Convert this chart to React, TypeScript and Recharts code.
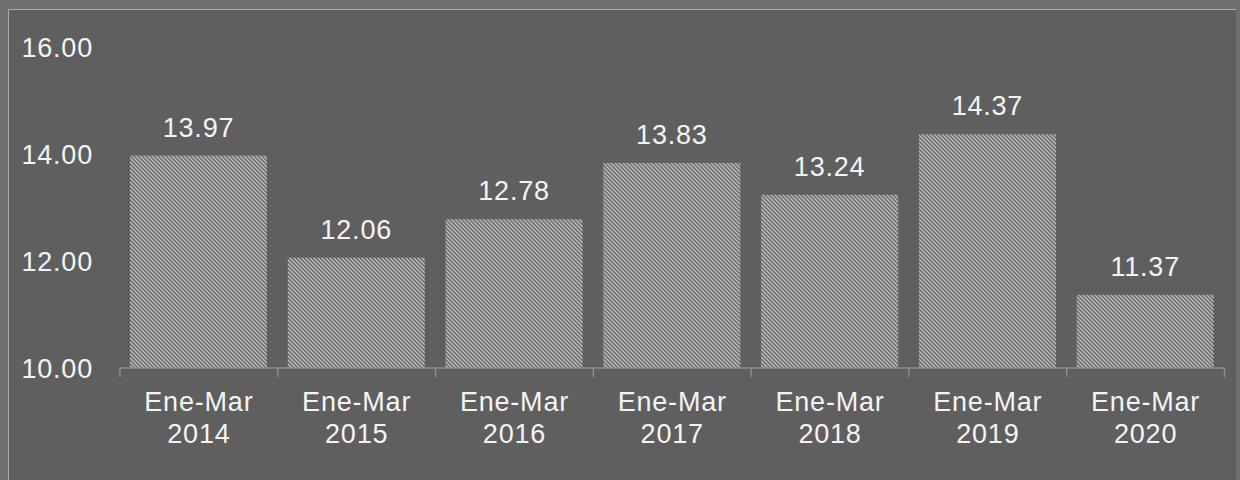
import { BarChart, Bar, XAxis, YAxis, LabelList } from "recharts";

const periods = ["Ene-Mar", "Ene-Mar", "Ene-Mar", "Ene-Mar", "Ene-Mar", "Ene-Mar", "Ene-Mar"];
const years = ["2014", "2015", "2016", "2017", "2018", "2019", "2020"];
const values = [13.97, 12.06, 12.78, 13.83, 13.24, 14.37, 11.37];
const yTicks = [10, 12, 14, 16];

const data = years.map((year, i) => ({
  name: `${periods[i]} ${year}`,
  period: periods[i],
  year,
  value: values[i],
}));

const W = 1240;
const H = 480;
const LEFT = 120;
const RIGHT = 15.5;
const BAND = (W - LEFT - RIGHT) / data.length;
const FONT = "'Liberation Sans', Arial, sans-serif";
const SPACING = 0.8;

function CategoryTick(props: any) {
  const { x, y, index, payload } = props;
  const d = data[index] ?? data.find((r) => r.name === payload.value);
  return (
    <g>
      <line x1={x - BAND / 2} y1={y} x2={x - BAND / 2} y2={y + 9} stroke="#8e8e8e" strokeWidth={1.5} />
      {index === data.length - 1 && (
        <line x1={x + BAND / 2} y1={y} x2={x + BAND / 2} y2={y + 9} stroke="#8e8e8e" strokeWidth={1.5} />
      )}
      <text x={x} y={y + 43} textAnchor="middle" fill="#f4f4f4" fontSize={27} fontFamily={FONT} letterSpacing={SPACING}>
        {d.period}
      </text>
      <text x={x} y={y + 75} textAnchor="middle" fill="#f4f4f4" fontSize={27} fontFamily={FONT} letterSpacing={SPACING}>
        {d.year}
      </text>
    </g>
  );
}

export default function App() {
  return (
    <div style={{ position: "absolute", left: 0, top: 0, width: W, height: H, background: "#6f6f71", overflow: "hidden" }}>
      <div
        style={{
          position: "absolute",
          left: 8,
          top: 9,
          width: 1228,
          height: 471,
          background: "#5f5f5f",
          borderLeft: "1.5px solid #acacae",
          borderTop: "1.5px solid #acacae",
          boxSizing: "border-box",
        }}
      />
      <div style={{ position: "absolute", left: 0, top: 0 }}>
        <BarChart width={W} height={H} data={data} margin={{ top: 47, right: RIGHT, left: 0, bottom: 0 }}>
          <defs>
            <pattern id="hatch" width="4" height="4" patternUnits="userSpaceOnUse">
              <rect width="4" height="4" fill="#6a6a6a" />
              <path d="M-1,-1 L5,5 M-1,3 L1,5 M3,-1 L5,1" stroke="#c0c0c0" strokeWidth={1.25} />
            </pattern>
          </defs>
          <XAxis
            dataKey="name"
            height={112}
            interval={0}
            tickLine={false}
            tickSize={0}
            tickMargin={0}
            axisLine={{ stroke: "#8e8e8e", strokeWidth: 1.5 }}
            tick={<CategoryTick />}
          />
          <YAxis
            width={LEFT}
            domain={[10, 16]}
            ticks={yTicks}
            allowDataOverflow
            axisLine={false}
            tickLine={false}
            tickSize={0}
            tickMargin={27}
            tickFormatter={(v: number) => v.toFixed(2)}
            tick={{ fill: "#f4f4f4", fontSize: 27, fontFamily: FONT, letterSpacing: SPACING }}
          />
          <Bar dataKey="value" fill="url(#hatch)" barSize={137} isAnimationActive={false}>
            <LabelList
              dataKey="value"
              position="top"
              offset={19}
              formatter={(v: any) => Number(v).toFixed(2)}
              style={{ fill: "#f4f4f4", fontSize: 27, fontFamily: FONT, letterSpacing: SPACING }}
            />
          </Bar>
        </BarChart>
      </div>
    </div>
  );
}
